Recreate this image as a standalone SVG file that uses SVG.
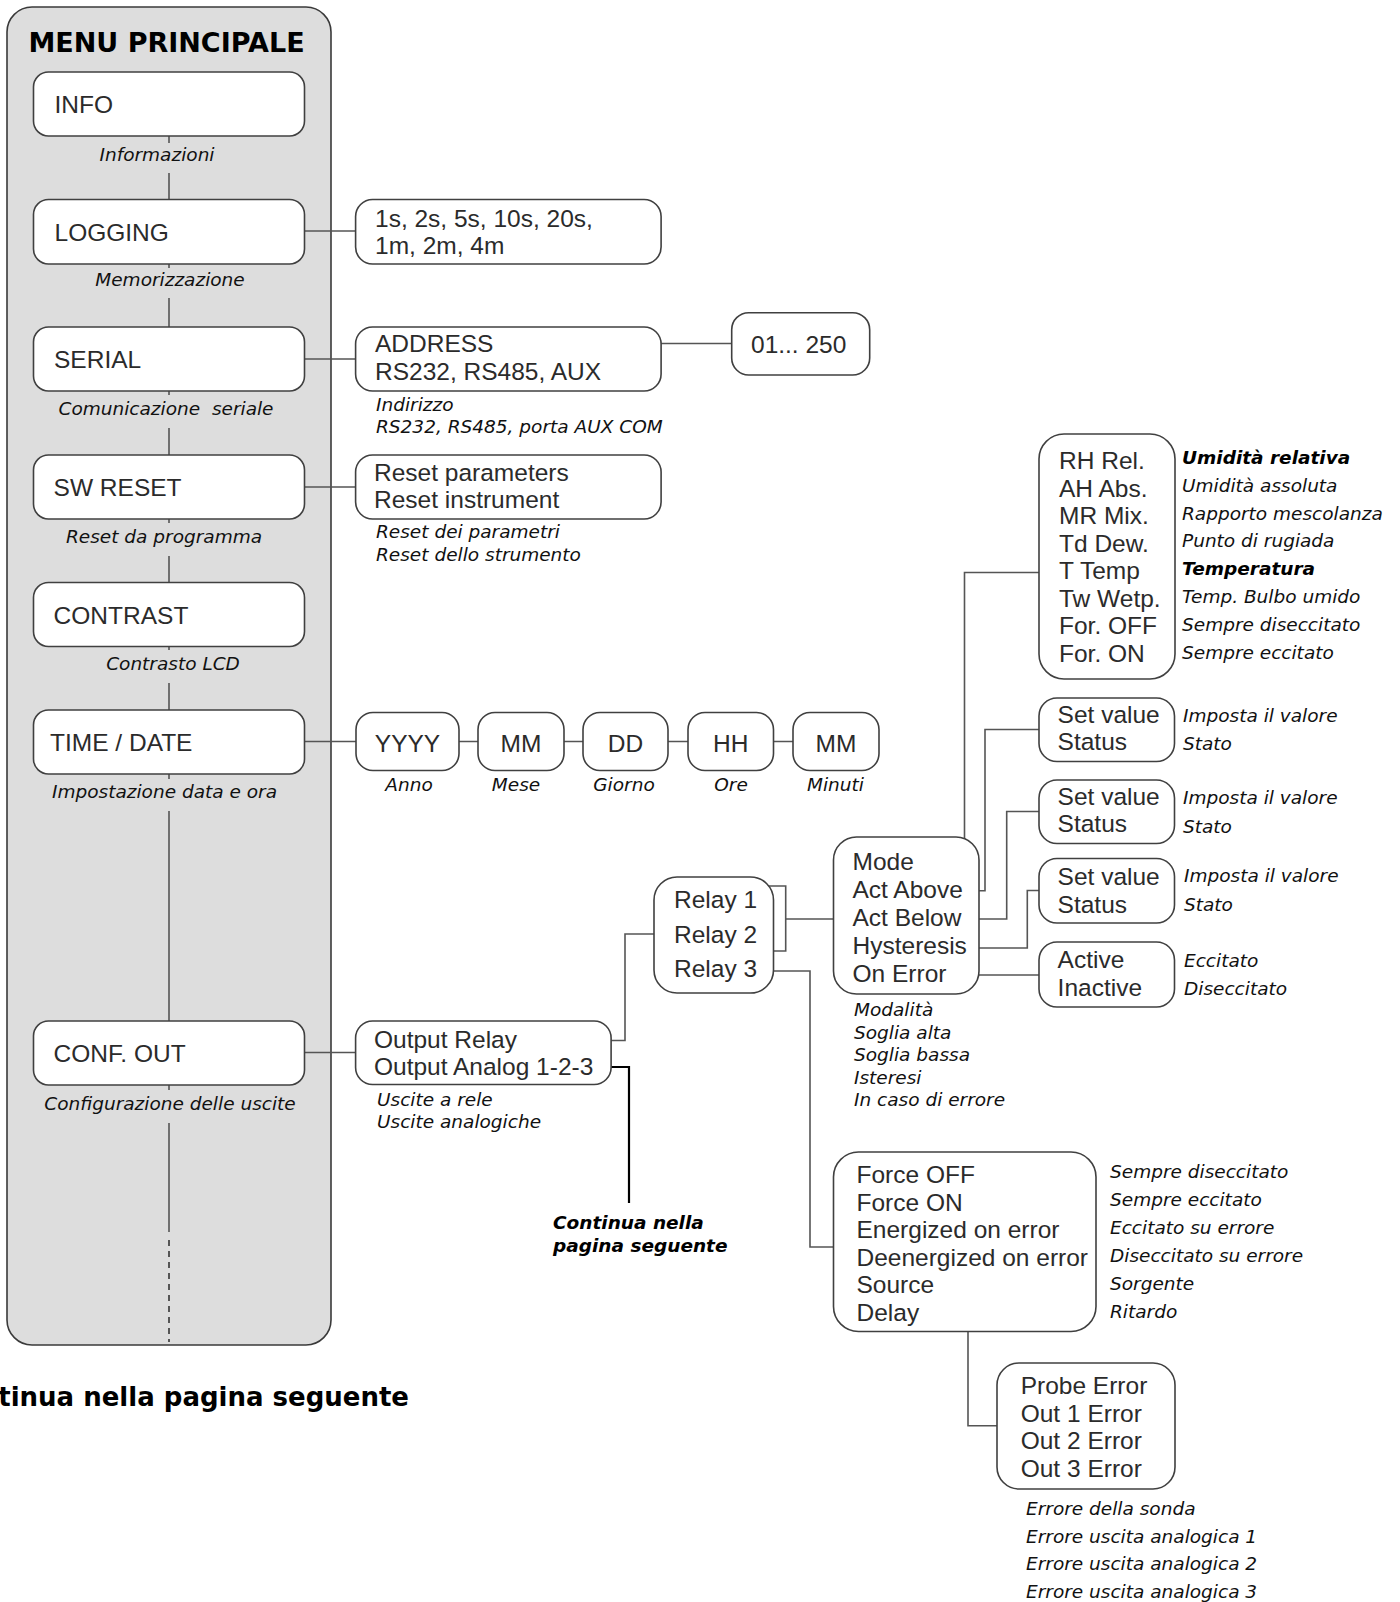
<svg xmlns="http://www.w3.org/2000/svg" width="1400" height="1602" viewBox="0 0 1400 1602">
<style>
.panel{fill:#dddddd;stroke:#3a3a3a;stroke-width:1.6}
.box{fill:#ffffff;stroke:#404040;stroke-width:1.6}
.conn{fill:none;stroke:#555555;stroke-width:1.6}
.blk{fill:none;stroke:#000000;stroke-width:2.2}
.dash{fill:none;stroke:#555555;stroke-width:2;stroke-dasharray:6 5}
.t{font-family:"Liberation Sans",Arial,sans-serif;font-size:24.5px;fill:#2b2b2b}
.m{text-anchor:middle}
.c{font-family:"DejaVu Sans",Verdana,sans-serif;font-style:italic;font-size:18.5px;fill:#111111}
.cb{font-family:"DejaVu Sans",Verdana,sans-serif;font-style:italic;font-weight:bold;font-size:18.5px;fill:#000000}
.title{font-family:"DejaVu Sans",Verdana,sans-serif;font-weight:bold;font-size:27px;fill:#000000}
.foot{font-family:"DejaVu Sans",Verdana,sans-serif;font-weight:bold;font-size:26px;fill:#000000}
</style>

<g id="panel">
<rect class="panel" x="7" y="7" width="324" height="1338" rx="25"/>
<text class="title m" x="166.5" y="51.5">MENU PRINCIPALE</text>
</g>

<g id="connectors">
<path class="conn" d="M169,136 V143 M169,173 V199.5 M169,264 V268 M169,298 V327 M169,391 V395 M169,428 V455 M169,519 V523 M169,556 V582.5 M169,646 V650 M169,683 V710 M169,774 V779 M169,811 V1021 M169,1085 V1090 M169,1123 V1232"/>
<path class="dash" d="M169,1240 V1342"/>
<path class="conn" d="M304.5,231 H355.6"/>
<path class="conn" d="M304.5,359 H355.6"/>
<path class="conn" d="M500.7,343.5 H731.7"/>
<path class="conn" d="M304.5,487 H355.6"/>
<path class="conn" d="M304.5,741.5 H356 M459,741.5 H478 M564,741.5 H583 M668,741.5 H688 M773.5,741.5 H793"/>
<path class="conn" d="M304.5,1052.5 H373"/>
<path class="conn" d="M533.5,1040.5 H625 V934 H654"/>
<path class="blk" d="M598,1067 H629 V1203"/>
<path class="conn" d="M758,886 H785.7 V951 H757 M785.7,919 H833.5"/>
<path class="conn" d="M763,971 H810 V1247 H833.5"/>
<path class="conn" d="M921,863 H964.5 V572.5 H1039"/>
<path class="conn" d="M969.5,890.7 H985 V729.5 H1039"/>
<path class="conn" d="M967,919 H1006.7 V811.5 H1039"/>
<path class="conn" d="M973,948 H1027.3 V890.5 H1039"/>
<path class="conn" d="M953,975 H1039"/>
<path class="conn" d="M941.7,1287 H968 V1425.7 H997"/>
</g>

<g id="info">
<rect class="box" x="33.5" y="72" width="271" height="64" rx="15"/>
<text class="t" x="54.5" y="113">INFO</text>
<text class="c m" x="157" y="161">Informazioni</text>
</g>
<g id="logging">
<rect class="box" x="33.5" y="199.5" width="271" height="64.5" rx="15"/>
<text class="t" x="54.5" y="240.5">LOGGING</text>
<text class="c m" x="170" y="285.5">Memorizzazione</text>
</g>
<g id="serial">
<rect class="box" x="33.5" y="327" width="271" height="64" rx="15"/>
<text class="t" x="54" y="368">SERIAL</text>
<text class="c m" x="166" y="415" xml:space="preserve">Comunicazione  seriale</text>
</g>
<g id="swreset">
<rect class="box" x="33.5" y="455" width="271" height="64" rx="15"/>
<text class="t" x="53.6" y="496">SW RESET</text>
<text class="c m" x="164" y="543">Reset da programma</text>
</g>
<g id="contrast">
<rect class="box" x="33.5" y="582.5" width="271" height="64" rx="15"/>
<text class="t" x="53.6" y="623.5">CONTRAST</text>
<text class="c m" x="173" y="670">Contrasto LCD</text>
</g>
<g id="timedate">
<rect class="box" x="33.5" y="710" width="271" height="64" rx="15"/>
<text class="t" x="50" y="751">TIME / DATE</text>
<text class="c m" x="164.5" y="798">Impostazione data e ora</text>
</g>
<g id="confout">
<rect class="box" x="33.5" y="1021" width="271" height="64" rx="15"/>
<text class="t" x="53.6" y="1062">CONF. OUT</text>
<text class="c m" x="170" y="1110">Configurazione delle uscite</text>
</g>

<g id="logging-values">
<rect class="box" x="355.6" y="199.5" width="305.5" height="64.5" rx="17"/>
<text class="t" x="375" y="226.5">1s, 2s, 5s, 10s, 20s,</text>
<text class="t" x="375" y="253.5">1m, 2m, 4m</text>
</g>
<g id="serial-values">
<rect class="box" x="355.6" y="327" width="305.5" height="64" rx="17"/>
<text class="t" x="375" y="352">ADDRESS</text>
<text class="t" x="375" y="380">RS232, RS485, AUX</text>
<text class="c" x="376" y="411">Indirizzo</text>
<text class="c" x="376" y="433">RS232, RS485, porta AUX COM</text>
</g>
<g id="address-range">
<rect class="box" x="731.7" y="312.7" width="138" height="62.3" rx="17"/>
<text class="t" x="751" y="352.5">01... 250</text>
</g>
<g id="reset-values">
<rect class="box" x="355.6" y="455" width="305.5" height="64" rx="17"/>
<text class="t" x="374" y="480.7">Reset parameters</text>
<text class="t" x="374" y="508">Reset instrument</text>
<text class="c" x="376" y="538">Reset dei parametri</text>
<text class="c" x="376" y="561">Reset dello strumento</text>
</g>

<g id="yyyy">
<rect class="box" x="356" y="712.5" width="103" height="58" rx="17"/>
<text class="t m" x="407.5" y="752">YYYY</text>
<text class="c m" x="409" y="791">Anno</text>
</g>
<g id="month">
<rect class="box" x="478" y="712.5" width="86" height="58" rx="17"/>
<text class="t m" x="521" y="752">MM</text>
<text class="c m" x="516" y="791">Mese</text>
</g>
<g id="day">
<rect class="box" x="583" y="712.5" width="85" height="58" rx="17"/>
<text class="t m" x="625.5" y="752">DD</text>
<text class="c m" x="624" y="791">Giorno</text>
</g>
<g id="hour">
<rect class="box" x="688" y="712.5" width="85.5" height="58" rx="17"/>
<text class="t m" x="730.7" y="752">HH</text>
<text class="c m" x="731" y="791">Ore</text>
</g>
<g id="minute">
<rect class="box" x="793" y="712.5" width="86" height="58" rx="17"/>
<text class="t m" x="836" y="752">MM</text>
<text class="c m" x="835.5" y="791">Minuti</text>
</g>

<g id="output-values">
<rect class="box" x="355.6" y="1021" width="255.5" height="63.5" rx="17"/>
<text class="t" x="374" y="1048.4">Output Relay</text>
<text class="t" x="374" y="1074.7">Output Analog 1-2-3</text>
<text class="c" x="377" y="1106">Uscite a rele</text>
<text class="c" x="377" y="1128">Uscite analogiche</text>
</g>
<g id="continua-analog">
<text class="cb" x="553" y="1229">Continua nella</text>
<text class="cb" x="553" y="1252">pagina seguente</text>
</g>

<g id="relays">
<rect class="box" x="654" y="877" width="119.5" height="116" rx="23"/>
<text class="t" x="674" y="908">Relay 1</text>
<text class="t" x="674" y="942.5">Relay 2</text>
<text class="t" x="674" y="976.5">Relay 3</text>
</g>

<g id="relay-params">
<rect class="box" x="833.5" y="837" width="145.5" height="157" rx="23"/>
<text class="t" x="852.5" y="870">Mode</text>
<text class="t" x="852.5" y="898">Act Above</text>
<text class="t" x="852.5" y="926">Act Below</text>
<text class="t" x="852.5" y="953.5">Hysteresis</text>
<text class="t" x="852.5" y="981.5">On Error</text>
<text class="c" x="854" y="1016">Modalità</text>
<text class="c" x="854" y="1038.5">Soglia alta</text>
<text class="c" x="854" y="1061">Soglia bassa</text>
<text class="c" x="854" y="1083.5">Isteresi</text>
<text class="c" x="854" y="1106">In caso di errore</text>
</g>

<g id="mode-values">
<rect class="box" x="1039" y="434" width="136" height="245" rx="25"/>
<text class="t" x="1059" y="469.3">RH Rel.</text>
<text class="t" x="1059" y="496.8">AH Abs.</text>
<text class="t" x="1059" y="524.3">MR Mix.</text>
<text class="t" x="1059" y="551.8">Td Dew.</text>
<text class="t" x="1059" y="579.3">T Temp</text>
<text class="t" x="1059" y="606.8">Tw Wetp.</text>
<text class="t" x="1059" y="634.3">For. OFF</text>
<text class="t" x="1059" y="661.8">For. ON</text>
<text class="cb" x="1182" y="464">Umidità relativa</text>
<text class="c" x="1182" y="491.8">Umidità assoluta</text>
<text class="c" x="1182" y="519.6">Rapporto mescolanza</text>
<text class="c" x="1182" y="547.4">Punto di rugiada</text>
<text class="cb" x="1182" y="575.2">Temperatura</text>
<text class="c" x="1182" y="603">Temp. Bulbo umido</text>
<text class="c" x="1182" y="630.8">Sempre diseccitato</text>
<text class="c" x="1182" y="658.6">Sempre eccitato</text>
</g>

<g id="act-above">
<rect class="box" x="1039" y="698" width="135.5" height="63.5" rx="18"/>
<text class="t" x="1057.6" y="723">Set value</text>
<text class="t" x="1057.6" y="750">Status</text>
<text class="c" x="1183" y="721.7">Imposta il valore</text>
<text class="c" x="1183" y="750">Stato</text>
</g>
<g id="act-below">
<rect class="box" x="1039" y="780" width="135.5" height="63.5" rx="18"/>
<text class="t" x="1057.6" y="805">Set value</text>
<text class="t" x="1057.6" y="832">Status</text>
<text class="c" x="1183" y="804">Imposta il valore</text>
<text class="c" x="1183" y="832.5">Stato</text>
</g>
<g id="hysteresis">
<rect class="box" x="1039" y="858.5" width="135.5" height="64.5" rx="18"/>
<text class="t" x="1057.6" y="885">Set value</text>
<text class="t" x="1057.6" y="912.5">Status</text>
<text class="c" x="1184" y="881.7">Imposta il valore</text>
<text class="c" x="1184" y="910.5">Stato</text>
</g>
<g id="on-error">
<rect class="box" x="1039" y="942" width="135.5" height="65" rx="18"/>
<text class="t" x="1057.6" y="968">Active</text>
<text class="t" x="1057.6" y="995.5">Inactive</text>
<text class="c" x="1184" y="966.7">Eccitato</text>
<text class="c" x="1184" y="995">Diseccitato</text>
</g>

<g id="relay3-modes">
<rect class="box" x="833.5" y="1152" width="262.5" height="179.5" rx="25"/>
<text class="t" x="856.5" y="1183">Force OFF</text>
<text class="t" x="856.5" y="1210.5">Force ON</text>
<text class="t" x="856.5" y="1238">Energized on error</text>
<text class="t" x="856.5" y="1265.5">Deenergized on error</text>
<text class="t" x="856.5" y="1293">Source</text>
<text class="t" x="856.5" y="1320.5">Delay</text>
<text class="c" x="1110" y="1178">Sempre diseccitato</text>
<text class="c" x="1110" y="1206">Sempre eccitato</text>
<text class="c" x="1110" y="1233.5">Eccitato su errore</text>
<text class="c" x="1110" y="1261.5">Diseccitato su errore</text>
<text class="c" x="1110" y="1289.5">Sorgente</text>
<text class="c" x="1110" y="1317.5">Ritardo</text>
</g>

<g id="source-values">
<rect class="box" x="997" y="1363" width="178" height="126" rx="22"/>
<text class="t" x="1020.7" y="1394">Probe Error</text>
<text class="t" x="1020.7" y="1421.7">Out 1 Error</text>
<text class="t" x="1020.7" y="1449">Out 2 Error</text>
<text class="t" x="1020.7" y="1476.7">Out 3 Error</text>
<text class="c" x="1026" y="1515">Errore della sonda</text>
<text class="c" x="1026" y="1542.7">Errore uscita analogica 1</text>
<text class="c" x="1026" y="1570">Errore uscita analogica 2</text>
<text class="c" x="1026" y="1598">Errore uscita analogica 3</text>
</g>

<g id="continua-footer">
<text class="foot" x="409" y="1406" text-anchor="end">tinua nella pagina seguente</text>
</g>
</svg>
